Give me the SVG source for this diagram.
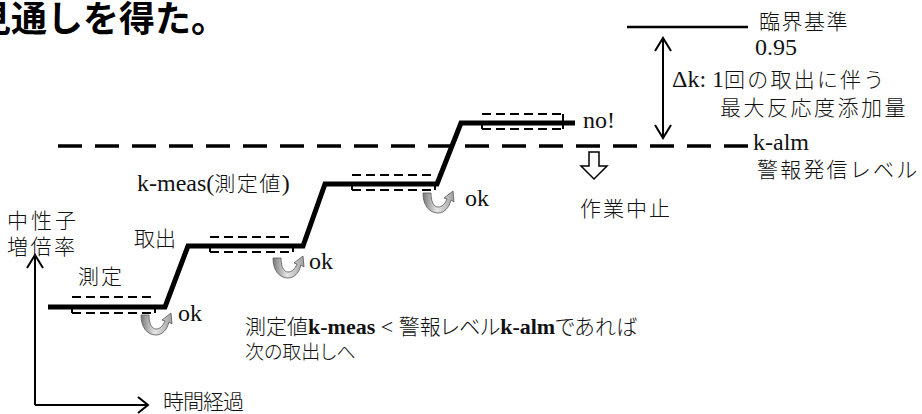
<svg xmlns="http://www.w3.org/2000/svg" width="922" height="414" viewBox="0 0 922 414">
<defs>
<style>
.lat{font-family:"Liberation Serif","Times New Roman",serif;font-size:24px;fill:#111;}
.jp{font-family:"Noto Sans CJK JP","Noto Sans CJK SC",sans-serif;font-size:21px;font-weight:300;font-feature-settings:"palt";}
.jf{font-family:"Noto Sans CJK JP","Noto Sans CJK SC",sans-serif;font-size:21px;font-weight:300;}
.b{font-weight:bold;}
.title{font-family:"Noto Sans CJK JP","Noto Sans CJK SC",sans-serif;font-size:36px;font-weight:bold;fill:#000;}
.ax{fill:none;stroke:#000;stroke-width:2;}
.stair{fill:none;stroke:#000;stroke-width:5;stroke-linejoin:miter;}
.dsh{fill:none;stroke:#000;stroke-width:2;stroke-dasharray:9 5;}
.tick{fill:none;stroke:#000;stroke-width:2;}
.alm{fill:none;stroke:#000;stroke-width:3.5;stroke-dasharray:24 13;}
.ok{fill:url(#g);stroke:#555;stroke-width:0.8;}
</style>
<linearGradient id="g" x1="0" y1="0" x2="1" y2="0">
<stop offset="0" stop-color="#7a7a7a"/>
<stop offset="0.45" stop-color="#e6e6e6"/>
<stop offset="1" stop-color="#a0a0a0"/>
</linearGradient>
<path id="okArrow" class="ok" d="M0,0 L8,0 C8,9 11,14 15,14 C19,14 22,11 24,6 L21,5 L30,-2 L31,9 L28,7 C26,15 21,20 15,20 C6,20 0,12 0,0 Z"/>
</defs>
<rect width="922" height="414" fill="#fff"/>

<g id="title"><text class="title" x="-25" y="32">見通しを得た。</text></g>

<g id="connectors">
<path class="ax" d="M35,405 L35,256 M27,268 L35,255 L43,268"/>
<path class="ax" d="M35,405 L148,405 M138,397 L148,405 L138,413"/>
<path class="stair" d="M48,307 L165,307 L188,246 L303,246 L325,184 L437,184 L461,123 L575,123"/>
<line class="alm" x1="58" y1="146" x2="748" y2="146"/>
<line x1="627" y1="27" x2="748" y2="27" stroke="#000" stroke-width="2.5"/>
<path class="ax" d="M663,39 L663,137 M655,51 L663,38 L671,51 M655,125 L663,138 L671,125"/>
</g>

<g id="step1">
<line class="dsh" x1="72" y1="297" x2="155" y2="297"/>
<line class="dsh" x1="72" y1="313" x2="155" y2="313"/>
<path class="tick" d="M72,307 V313 M155,307 V313"/>
<use href="#okArrow" x="141" y="315"/>
<text class="lat" x="178" y="321">ok</text>
</g>
<g id="step2">
<line class="dsh" x1="210" y1="237" x2="293" y2="237"/>
<line class="dsh" x1="210" y1="252" x2="293" y2="252"/>
<path class="tick" d="M210,246 V252 M293,246 V252"/>
<use href="#okArrow" x="273" y="258"/>
<text class="lat" x="309" y="269">ok</text>
</g>
<g id="step3">
<line class="dsh" x1="352" y1="175" x2="435" y2="175"/>
<line class="dsh" x1="352" y1="190" x2="435" y2="190"/>
<path class="tick" d="M352,184 V190 M435,184 V190"/>
<use href="#okArrow" x="423" y="193"/>
<text class="lat" x="465" y="206">ok</text>
</g>
<g id="step4">
<line class="dsh" x1="482" y1="114" x2="563" y2="114"/>
<line class="dsh" x1="482" y1="129" x2="563" y2="129"/>
<path class="tick" d="M482,123 V129 M563,114 V123 M563,123 V129"/>
<text class="lat" x="583" y="128">no!</text>
</g>

<g id="stop">
<path d="M589,152 L599,152 L599,166 L607,166 L594,179 L581,166 L589,166 Z" fill="#fff" stroke="#000" stroke-width="1.5"/>
<text class="lat" x="580" y="216"><tspan class="jf" style="letter-spacing:2px">作業中止</tspan></text>
</g>

<g id="critical">
<text class="lat" x="759" y="29"><tspan class="jf" style="letter-spacing:1.5px">臨界基準</tspan></text>
<text class="lat" x="755" y="55">0.95</text>
</g>
<g id="delta">
<text class="lat" x="672" y="87">Δk: 1<tspan class="jf" style="letter-spacing:2.2px">回の取出に伴う</tspan></text>
<text class="lat" x="720" y="115"><tspan class="jf" style="letter-spacing:2.5px">最大反応度添加量</tspan></text>
</g>
<g id="alarm">
<text class="lat" x="753" y="150">k-alm</text>
<text class="lat" x="757" y="177"><tspan class="jf" style="letter-spacing:2.2px">警報発信レベル</tspan></text>
</g>

<g id="labels">
<text class="lat" x="137" y="191">k-meas(<tspan class="jf" style="letter-spacing:1.5px">測定値</tspan>)</text>
<text class="lat" x="134" y="246"><tspan class="jf">取出</tspan></text>
<text class="lat" x="78" y="284"><tspan class="jf" style="letter-spacing:2px">測定</tspan></text>
<text class="lat" x="7" y="228"><tspan class="jf" style="letter-spacing:3px">中性子</tspan></text>
<text class="lat" x="7" y="254"><tspan class="jf" style="letter-spacing:2.5px">増倍率</tspan></text>
<text class="lat" x="163" y="409"><tspan class="jf" style="letter-spacing:-1px">時間経過</tspan></text>
</g>

<g id="note">
<text class="lat" x="245" y="334" style="font-size:22px"><tspan class="jp">測定値</tspan><tspan class="b">k-meas</tspan> &lt; <tspan class="jp">警報レベル</tspan><tspan class="b">k-alm</tspan><tspan class="jp">であれば</tspan></text>
<text class="lat" x="245" y="359"><tspan class="jp" style="font-size:19px">次の取出しへ</tspan></text>
</g>
</svg>
